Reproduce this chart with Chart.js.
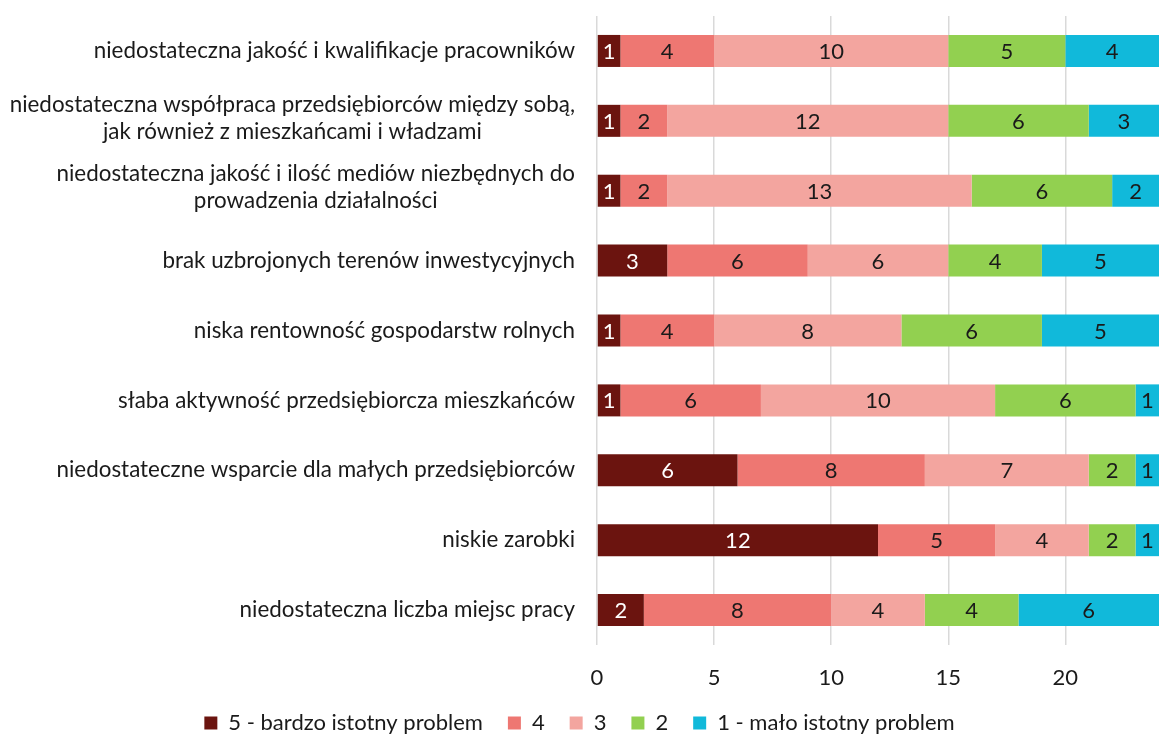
<!DOCTYPE html>
<html>
<head>
<meta charset="utf-8">
<script src="https://cdn.jsdelivr.net/npm/chart.js@4/dist/chart.umd.min.js"></script>
<style>
  html, body { margin: 0; padding: 0; background: #fff; }
  #wrap { width: 1159px; height: 738px; }
</style>
</head>
<body>
<div id="wrap"><canvas id="chart"></canvas></div>
<script>
const categories = [
  ['niedostateczna jakość i kwalifikacje pracowników'],
  ['niedostateczna współpraca przedsiębiorców między sobą,', 'jak również z mieszkańcami i władzami'],
  ['niedostateczna jakość i ilość mediów niezbędnych do', 'prowadzenia działalności'],
  ['brak uzbrojonych terenów inwestycyjnych'],
  ['niska rentowność gospodarstw rolnych'],
  ['słaba aktywność przedsiębiorcza mieszkańców'],
  ['niedostateczne wsparcie dla małych przedsiębiorców'],
  ['niskie zarobki'],
  ['niedostateczna liczba miejsc pracy']
];

const seriesNames = ['5 - bardzo istotny problem', '4', '3', '2', '1 - mało istotny problem'];
const score5 = [1, 1, 1, 3, 1, 1, 6, 12, 2];
const score4 = [4, 2, 2, 6, 4, 6, 8, 5, 8];
const score3 = [10, 12, 13, 6, 8, 10, 7, 4, 4];
const score2 = [5, 6, 6, 4, 6, 6, 2, 2, 4];
const score1 = [4, 3, 2, 5, 5, 1, 1, 1, 6];
const xTicks = [0, 5, 10, 15, 20];

const colors = ['#6B140F', '#EE7772', '#F3A59F', '#92D050', '#11B9DA'];
const labelColors = ['#ffffff', '#1a1a1a', '#1a1a1a', '#1a1a1a', '#1a1a1a'];
const FONT = 'Lato';
const SIZE = 22;

const values = [score5, score4, score3, score2, score1];

// y labels drawn by hand: each label right-aligned as a block, lines centered inside it
const yLabels = {
  id: 'yLabels',
  afterDraw(chart) {
    const ctx = chart.ctx;
    const y = chart.scales.y;
    ctx.save();
    ctx.font = '22.4px ' + FONT;
    ctx.fillStyle = '#1a1a1a';
    ctx.textAlign = 'center';
    ctx.textBaseline = 'middle';
    const right = 575, lh = 27;
    categories.forEach((lines, i) => {
      const w = Math.max(...lines.map(l => ctx.measureText(l).width));
      const cx = right - w / 2;
      const cy = y.getPixelForTick(i) - (lines.length > 1 ? 3 : 0);
      lines.forEach((l, j) => {
        ctx.fillText(l, cx, cy + (j - (lines.length - 1) / 2) * lh);
      });
    });
    ctx.restore();
  }
};

// values inside the bar segments
const barValues = {
  id: 'barValues',
  afterDatasetsDraw(chart) {
    const ctx = chart.ctx;
    ctx.save();
    ctx.font = SIZE + 'px ' + FONT;
    ctx.textAlign = 'center';
    ctx.textBaseline = 'middle';
    chart.data.datasets.forEach((ds, d) => {
      const meta = chart.getDatasetMeta(d);
      ctx.fillStyle = labelColors[d];
      meta.data.forEach((bar, i) => {
        const v = ds.data[i];
        if (!v) return;
        ctx.fillText(String(v), (bar.x + bar.base) / 2, bar.y + 1);
      });
    });
    ctx.restore();
  }
};

new Chart(document.getElementById('chart'), {
  type: 'bar',
  data: {
    labels: categories,
    datasets: seriesNames.map((name, d) => ({
      label: name,
      data: values[d],
      backgroundColor: colors[d],
      borderWidth: 0,
      categoryPercentage: 1,
      barPercentage: 0.458
    }))
  },
  options: {
    indexAxis: 'y',
    responsive: true,
    maintainAspectRatio: false,
    animation: false,
    layout: { padding: { top: 16, right: 0, left: 0, bottom: -6 } },
    plugins: {
      legend: {
        position: 'bottom',
        labels: {
          boxWidth: 13,
          boxHeight: 13,
          padding: 25,
          color: '#1a1a1a',
          font: { family: FONT, size: SIZE }
        }
      },
      tooltip: { enabled: false }
    },
    scales: {
      x: {
        stacked: true,
        min: 0,
        max: 24,
        afterBuildTicks: s => { s.ticks = xTicks.map(v => ({ value: v })); },
        afterFit: s => { s.height = 42; },
        border: { display: false },
        grid: { color: '#D9D9D9', lineWidth: 1.5, drawTicks: false },
        ticks: {
          padding: 20,
          color: '#1a1a1a',
          font: { family: FONT, size: SIZE }
        }
      },
      y: {
        stacked: true,
        afterFit: s => { s.width = 597; },
        border: { display: false },
        grid: { display: false },
        ticks: { display: false }
      }
    }
  },
  plugins: [yLabels, barValues]
});
</script>
</body>
</html>
